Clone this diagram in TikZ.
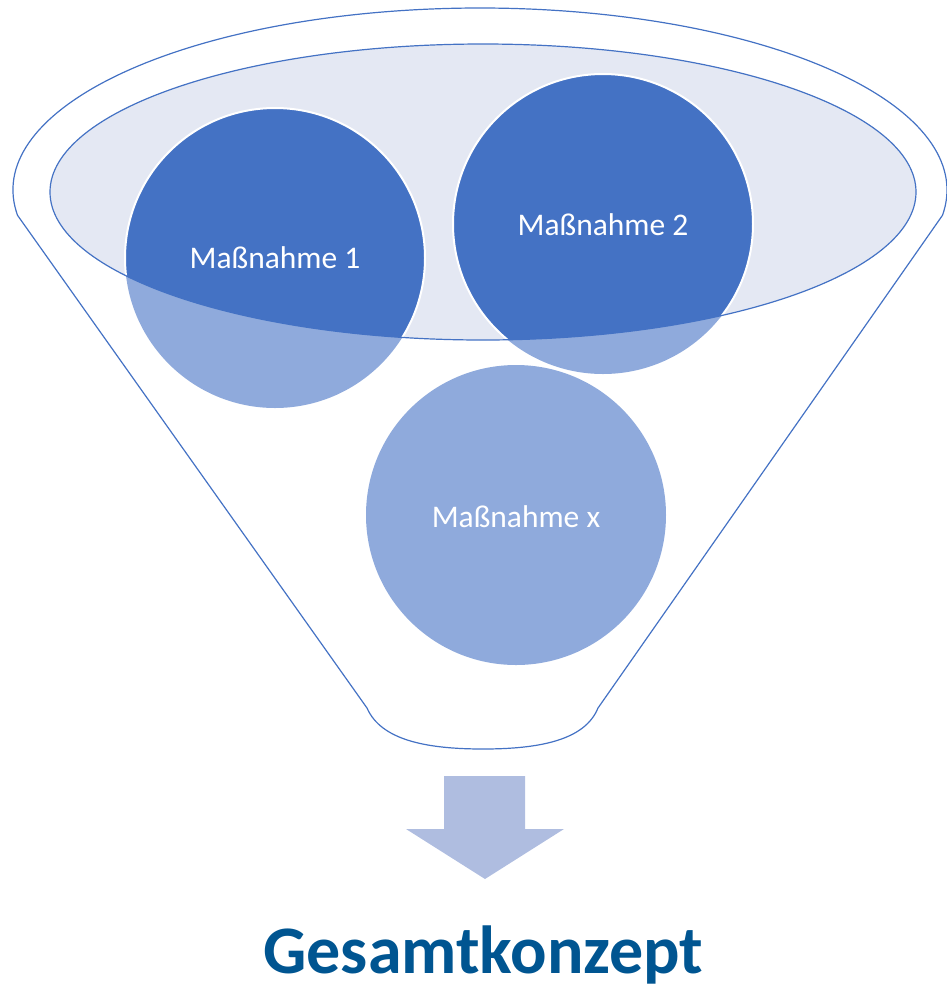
\documentclass[tikz,border=0pt]{standalone}
\usepackage{fontspec}
\setmainfont{Carlito}
\definecolor{funnelline}{HTML}{4472C4}
\definecolor{darkball}{HTML}{4472C4}
\definecolor{lightball}{HTML}{8FAADC}
\definecolor{rimfill}{HTML}{E4E8F3}
\definecolor{arrowfill}{HTML}{AFBDE0}
\definecolor{titleblue}{HTML}{005591}
\tikzset{
  outline/.style={draw=funnelline, line width=1.2pt},
  balltext/.style={text=white, font=\fontsize{31.5}{34}\selectfont, anchor=base},
  titletext/.style={text=titleblue, font=\fontsize{68}{74}\selectfont\bfseries, anchor=base},
}
\begin{document}
\begin{tikzpicture}[x=1pt,y=1pt]
\useasboundingbox (0,0) rectangle (947,-989);

% funnel body: wide elliptic mouth, straight sides, rounded spout
\draw[outline] (480,-190) ++(188:467pt and 182pt)
  arc[start angle=188, end angle=-8, x radius=467pt, y radius=182pt]
  -- (598,-708)
  .. controls (585,-740) and (540,-749) .. (483,-749)
  .. controls (426,-749) and (381,-740) .. (367,-708)
  -- cycle;

% inner rim of the mouth
\coordinate (rimc) at (483,-192);
\fill[rimfill] (rimc) ellipse[x radius=433pt, y radius=148pt];

% the three measures, pale everywhere
\coordinate (c1) at (275,-258);
\coordinate (c2) at (603,-224);
\coordinate (cx) at (516,-515);
\foreach \c in {c1,c2,cx}
  \fill[lightball] (\c) circle[radius=150pt];

% darker where they sit inside the rim
\begin{scope}
  \clip (rimc) ellipse[x radius=433pt, y radius=148pt];
  \foreach \c in {c1,c2}
    \draw[fill=darkball, draw=white, line width=2pt] (\c) circle[radius=150pt];
\end{scope}
\draw[outline] (rimc) ellipse[x radius=433pt, y radius=148pt];

\node[balltext] (m1) at (275,-268) {Maßnahme 1};
\node[balltext] (m2) at (603,-235) {Maßnahme 2};
\node[balltext] (mx) at (516,-527) {Maßnahme x};

% block arrow below the spout
\fill[arrowfill] (444,-776) -- (525,-776) -- (525,-829) -- (564,-829)
  -- (485,-879) -- (406,-829) -- (444,-829) -- cycle;

\node[titletext] (title) at (483.5,-973) {Gesamtkonzept};
\end{tikzpicture}
\end{document}
